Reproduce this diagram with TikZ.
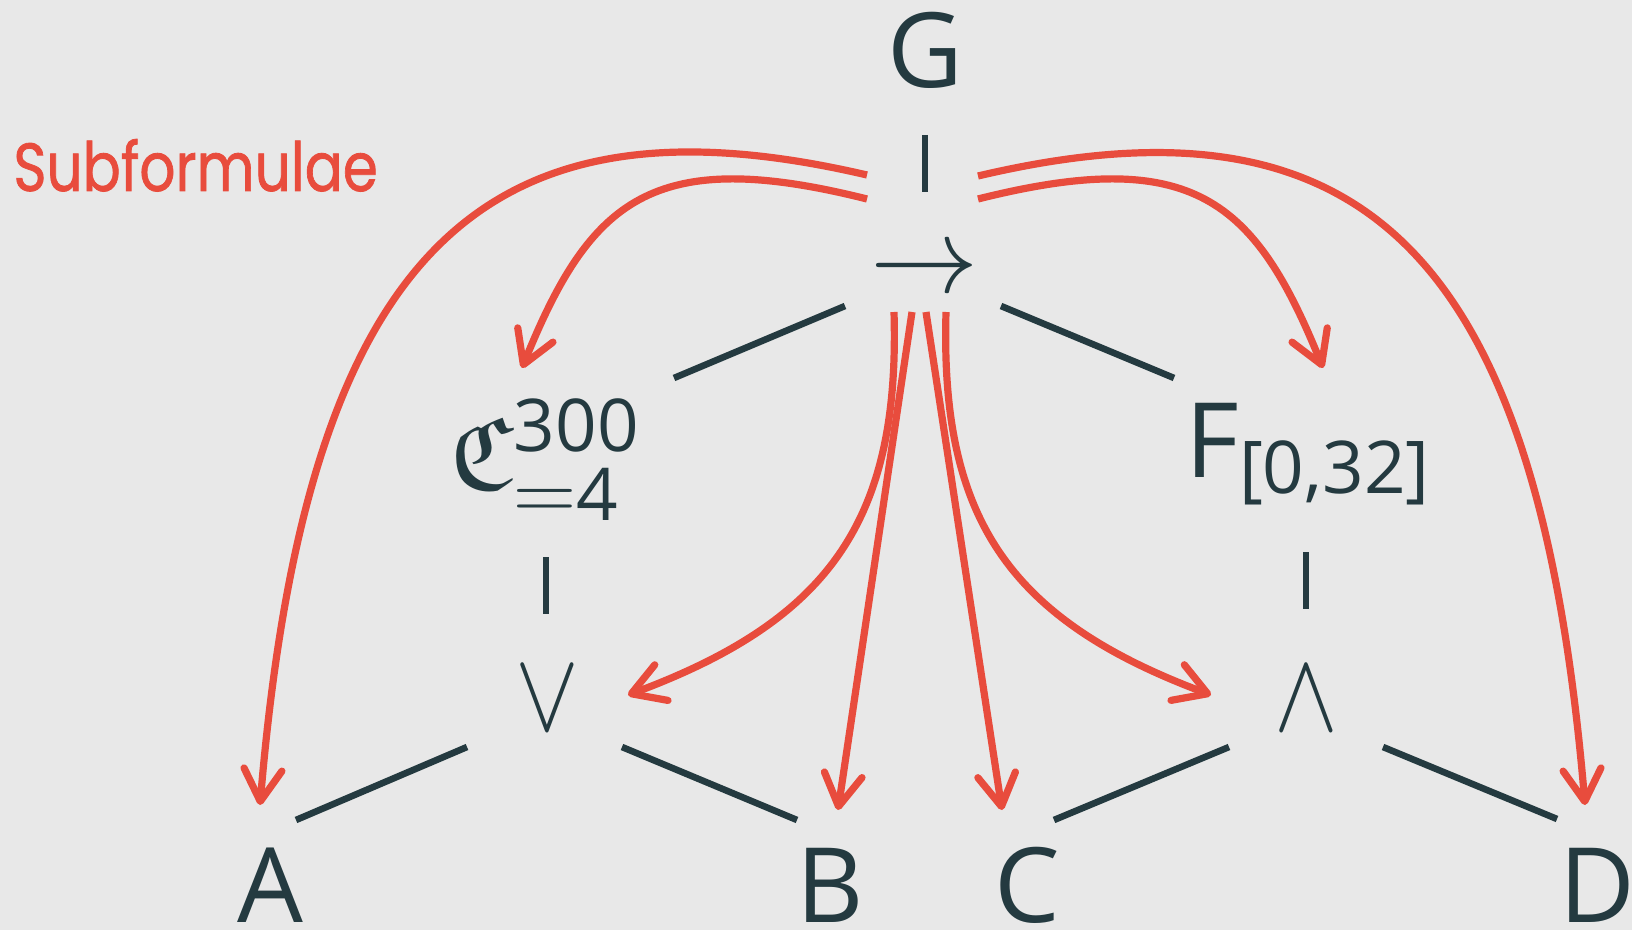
\RequirePackage{fix-cm}
\documentclass[tikz,border=0pt]{standalone}
\usepackage{amsmath,amssymb}
\usepackage{graphicx}
\usepackage[no-math]{fontspec}
\setmainfont{Open Sans}
\newfontfamily\labelfont{Poppins}[FakeBold=1.2]
\usetikzlibrary{arrows.meta,calc}
\definecolor{bgc}{HTML}{E8E8E8}
\definecolor{ink}{HTML}{243A40}
\definecolor{accent}{HTML}{E84C3D}
\begin{document}
\begin{tikzpicture}[x=0.5pt,y=-0.5pt,
  lbl/.style={text=ink,inner sep=0pt,font=\fontsize{52}{60}\selectfont},
  edge/.style={draw=ink,line width=3.3pt},
  sub/.style={draw=accent,line width=3.6pt,-{Straight Barb[length=16pt,width=19pt,line cap=round,line join=round]}}
]
\useasboundingbox[fill=bgc] (0,0) rectangle (1632,930);

% nodes
\node[lbl,anchor=base] (G) at (925,88) {G};
\node[lbl,font=\fontsize{47}{50}\selectfont] (arr) at (925,273) {\scalebox{1.15}{$\rightarrow$}};
\node[lbl,anchor=base] (frak) at (545,489) {$\mathfrak{C}^{\text{300}}_{\scalebox{1.2}{$\scriptstyle=$}\text{4}}$};
\node[lbl,anchor=base] (F) at (1308,477) {$\text{F}_{\text{[0,32]}}$};
\node[lbl] (or) at (547,699) {\scalebox{0.92}[1.09]{$\vee$}};
\node[lbl] (and) at (1306,699) {\scalebox{0.92}[1.09]{$\wedge$}};
\node[lbl,anchor=base] (A) at (270,922) {A};
\node[lbl,anchor=base] (B) at (830,922) {B};
\node[lbl,anchor=base] (C) at (1027,922) {C};
\node[lbl,anchor=base] (D) at (1597,922) {D};
\node[text=accent,inner sep=0pt,anchor=base west,font=\labelfont\fontsize{34}{40}\selectfont] (title) at (13,191) {\scalebox{0.83}[1]{Subformulae}};

% tree edges
\draw[edge] ($(G.base)+(0,47)$) -- ($(arr.center)+(0,-81)$);
\draw[edge] ($(arr.center)+(-80,33)$) -- ($(frak.base)+(129,-111)$);
\draw[edge] ($(arr.center)+(76,33)$) -- ($(F.base)+(-134,-99)$);
\draw[edge] ($(frak.base)+(1,68)$) -- ($(or.center)+(-1,-85)$);
\draw[edge] ($(F.base)+(-2,75)$) -- ($(and.center)+(0,-90)$);
\draw[edge] ($(or.center)+(-80,48)$) -- ($(A.base)+(26,-102)$);
\draw[edge] ($(or.center)+(75,48)$) -- ($(B.base)+(-33,-102)$);
\draw[edge] ($(and.center)+(-77,48)$) -- ($(C.base)+(27,-102)$);
\draw[edge] ($(and.center)+(77,48)$) -- ($(D.base)+(-40,-103)$);

% subformula arrows
\draw[sub] ($(G.base)+(-58,87)$) .. controls (477,84) and (306,257) .. ($(A.base)+(-10,-117)$);
\draw[sub] ($(G.base)+(-58,111)$) .. controls (652,145) and (590,200) .. ($(frak.base)+(-23,-121)$);
\draw[sub] ($(G.base)+(53,111)$) .. controls (1193,145) and (1255,200) .. ($(F.base)+(15,-109)$);
\draw[sub] ($(G.base)+(53,88)$) .. controls (1368,84) and (1539,257) .. ($(D.base)+(-12,-117)$);
\draw[sub] ($(arr.center)+(-31,39)$) .. controls (900,520) and (830,620) .. ($(or.center)+(81,-4)$);
\draw[sub] ($(arr.center)+(-13,39)$) -- ($(B.base)+(8,-112)$);
\draw[sub] ($(arr.center)+(1,39)$) -- ($(C.base)+(-25,-112)$);
\draw[sub] ($(arr.center)+(21,39)$) .. controls (940,520) and (1010,620) .. ($(and.center)+(-95,-4)$);
\end{tikzpicture}
\end{document}
